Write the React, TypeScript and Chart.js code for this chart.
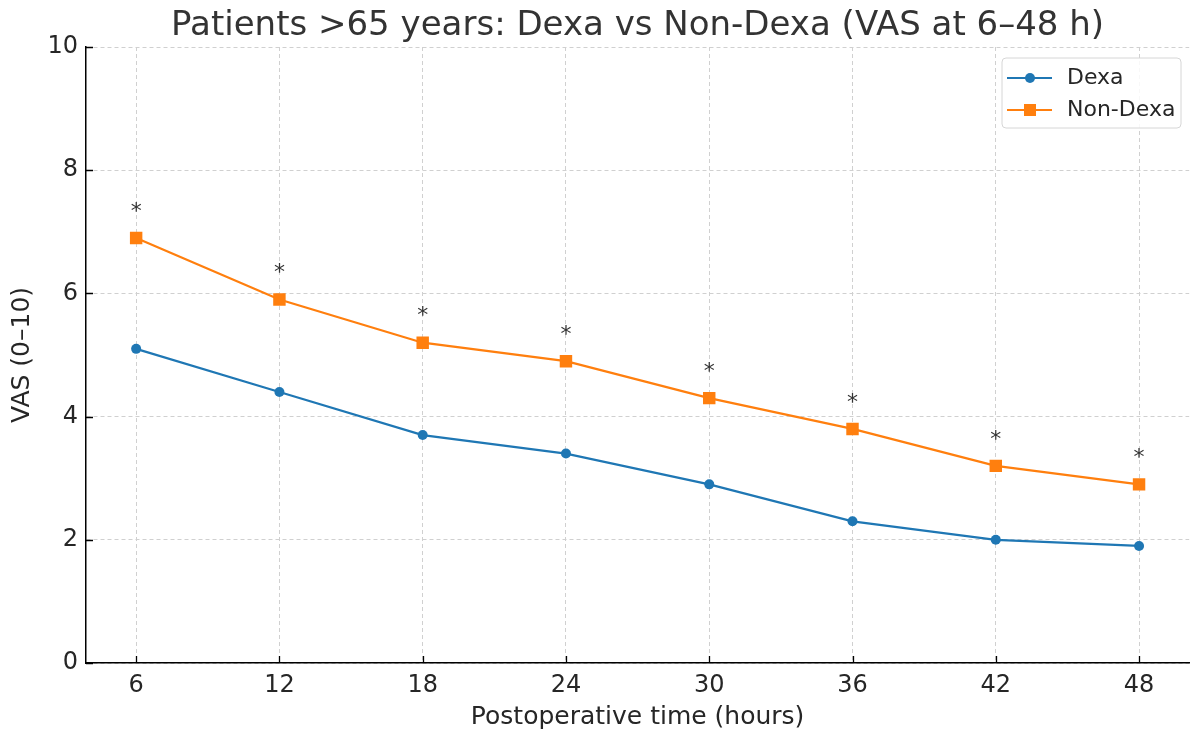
import React, { useEffect, useRef } from "react";
import { Chart, registerables } from "chart.js";

Chart.register(...registerables);

const hours = [6, 12, 18, 24, 30, 36, 42, 48];
const dexa = [5.1, 4.4, 3.7, 3.4, 2.9, 2.3, 2.0, 1.9];
const nonDexa = [6.9, 5.9, 5.2, 4.9, 4.3, 3.8, 3.2, 2.9];
const significant = [true, true, true, true, true, true, true, true];
const yTicks = [0, 2, 4, 6, 8, 10];
const seriesNames = ["Dexa", "Non-Dexa"];
const titleText = "Patients >65 years: Dexa vs Non-Dexa (VAS at 6–48 h)";
const xTitle = "Postoperative time (hours)";
const yTitle = "VAS (0–10)";

const FONT = '"DejaVu Sans", sans-serif';
const BLUE = "#1f77b4";
const ORANGE = "#ff7f0e";
const TEXT = "#262626";

const decorPlugin = {
  id: "decor",
  afterDatasetsDraw(chart: any) {
    const { ctx, chartArea, scales } = chart;
    const xs = scales.x;
    const ys = scales.y;
    ctx.save();
    // inward tick marks
    ctx.strokeStyle = "#000";
    ctx.lineWidth = 1.3;
    ctx.beginPath();
    hours.forEach((h) => {
      const px = Math.round(xs.getPixelForValue(h)) + 0.5;
      ctx.moveTo(px, chartArea.bottom);
      ctx.lineTo(px, chartArea.bottom - 7);
    });
    yTicks.forEach((v) => {
      const py = Math.round(ys.getPixelForValue(v)) + 0.5;
      ctx.moveTo(chartArea.left, py);
      ctx.lineTo(chartArea.left + 7, py);
    });
    ctx.stroke();
    ctx.restore();
  },
  afterDraw(chart: any) {
    const { ctx, chartArea, scales } = chart;
    const xs = scales.x;
    const ys = scales.y;
    ctx.save();
    // title
    ctx.font = `34px ${FONT}`;
    ctx.fillStyle = "#333";
    ctx.textAlign = "center";
    ctx.textBaseline = "alphabetic";
    ctx.fillText(titleText, (chartArea.left + chartArea.right) / 2, 35);

    // asterisks
    ctx.font = `22px ${FONT}`;
    ctx.fillStyle = "#333";
    ctx.textBaseline = "alphabetic";
    hours.forEach((h, i) => {
      if (!significant[i]) return;
      const px = xs.getPixelForValue(h);
      const py = ys.getPixelForValue(nonDexa[i] + 0.54);
      ctx.fillText("*", px, py + 13);
    });

    // legend
    const bx = 1002, by = 58, bw = 179, bh = 70;
    ctx.beginPath();
    const r = 4;
    ctx.moveTo(bx + r, by);
    ctx.arcTo(bx + bw, by, bx + bw, by + bh, r);
    ctx.arcTo(bx + bw, by + bh, bx, by + bh, r);
    ctx.arcTo(bx, by + bh, bx, by, r);
    ctx.arcTo(bx, by, bx + bw, by, r);
    ctx.closePath();
    ctx.fillStyle = "rgba(255,255,255,0.85)";
    ctx.fill();
    ctx.strokeStyle = "#d6d6d6";
    ctx.lineWidth = 1;
    ctx.stroke();

    const rows = [
      { name: seriesNames[0], color: BLUE, style: "circle", y: 78 },
      { name: seriesNames[1], color: ORANGE, style: "rect", y: 110 },
    ];
    rows.forEach((row) => {
      ctx.strokeStyle = row.color;
      ctx.lineWidth = 2.2;
      ctx.beginPath();
      ctx.moveTo(1007, row.y);
      ctx.lineTo(1052, row.y);
      ctx.stroke();
      ctx.fillStyle = row.color;
      if (row.style === "circle") {
        ctx.beginPath();
        ctx.arc(1030, row.y, 5, 0, Math.PI * 2);
        ctx.fill();
      } else {
        ctx.fillRect(1030 - 6, row.y - 6, 12, 12);
      }
      ctx.fillStyle = TEXT;
      ctx.font = `22px ${FONT}`;
      ctx.textAlign = "left";
      ctx.textBaseline = "middle";
      ctx.fillText(row.name, 1067, row.y);
    });
    ctx.restore();
  },
};

export default function App() {
  const ref = useRef<HTMLCanvasElement | null>(null);
  useEffect(() => {
    if (!ref.current) return;
    const chart = new Chart(ref.current, {
      type: "line",
      data: {
        datasets: [
          {
            label: seriesNames[0],
            data: hours.map((h, i) => ({ x: h, y: dexa[i] })),
            borderColor: BLUE,
            backgroundColor: BLUE,
            borderWidth: 2.2,
            pointStyle: "circle",
            pointRadius: 5,
            pointBorderWidth: 0,
            tension: 0,
          },
          {
            label: seriesNames[1],
            data: hours.map((h, i) => ({ x: h, y: nonDexa[i] })),
            borderColor: ORANGE,
            backgroundColor: ORANGE,
            borderWidth: 2.2,
            pointStyle: "rect",
            pointRadius: 8.8,
            pointBorderWidth: 0,
            tension: 0,
          },
        ],
      },
      options: {
        animation: false,
        responsive: false,
        maintainAspectRatio: false,
        layout: { padding: { top: 47, right: 5, left: 0, bottom: 0 } },
        plugins: {
          legend: { display: false },
          title: { display: false },
          tooltip: { enabled: false },
        },
        scales: {
          x: {
            type: "linear",
            min: 3.9,
            max: 50.1,
            afterBuildTicks: (s: any) => {
              s.ticks = hours.map((v) => ({ value: v }));
            },
            afterFit: (s: any) => {
              s.height = 70;
            },
            grid: {
              color: "#d0d0d0",
              lineWidth: 1,
              drawTicks: false,
            },
            border: { display: true, color: "#000", width: 1.5, dash: [4, 3] },
            ticks: {
              font: { family: FONT, size: 24 },
              color: TEXT,
              padding: 8,
              maxRotation: 0,
              autoSkip: false,
            },
            title: {
              display: true,
              text: xTitle,
              font: { family: FONT, size: 25 },
              color: TEXT,
              padding: { top: 0, bottom: 1 },
            },
          },
          y: {
            type: "linear",
            min: 0,
            max: 10,
            afterBuildTicks: (s: any) => {
              s.ticks = yTicks.map((v) => ({ value: v }));
            },
            afterFit: (s: any) => {
              s.width = 86;
            },
            grid: {
              color: "#d0d0d0",
              lineWidth: 1,
              drawTicks: false,
            },
            border: { display: true, color: "#000", width: 1.5, dash: [4, 3] },
            ticks: {
              font: { family: FONT, size: 24 },
              color: TEXT,
              padding: 8,
              autoSkip: false,
            },
            title: {
              display: true,
              text: yTitle,
              font: { family: FONT, size: 25 },
              color: TEXT,
              padding: { top: 7, bottom: 0 },
            },
          },
        },
      },
      plugins: [decorPlugin],
    } as any);
    return () => chart.destroy();
  }, []);
  return (
    <div style={{ position: "absolute", left: 0, top: 0, width: 1198, height: 733, background: "#fff" }}>
      <canvas ref={ref} width={1198} height={733} style={{ display: "block", width: 1198, height: 733 }} />
    </div>
  );
}
